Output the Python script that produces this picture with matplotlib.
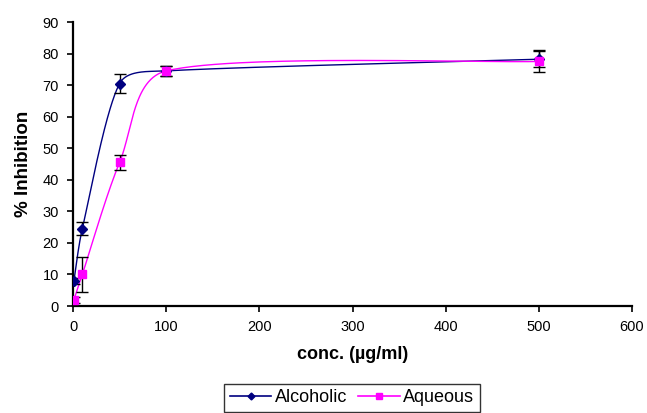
import numpy as np
import matplotlib
matplotlib.use("Agg")
import matplotlib.pyplot as plt
from matplotlib.lines import Line2D

plt.rcParams['font.family'] = ['Liberation Sans', 'DejaVu Sans']

conc = [1, 10, 50, 100, 500]
alcoholic = [8, 24.5, 70.5, 74.5, 78.2]
alcoholic_err = [1.0, 2.0, 3.0, 1.5, 2.5]
aqueous = [2, 10, 45.5, 74.5, 77.5]
aqueous_err = [1.0, 5.5, 2.5, 1.5, 3.5]
xticks = [0, 100, 200, 300, 400, 500, 600]
yticks = [0, 10, 20, 30, 40, 50, 60, 70, 80, 90]

fig = plt.figure(figsize=(6.47, 4.13), dpi=100)
ax = fig.add_axes([73 / 647, 107 / 413, 559 / 647, 284 / 413])
ax.set_xlim(0, 600)
ax.set_ylim(0, 90)


def smooth(x, y, n=60):
    # Excel-like smoothing done in display space, handles limited to 1/3 segment
    pts = ax.transData.transform(np.column_stack([x, y]))
    p = np.vstack([pts[0], pts, pts[-1]])
    t = np.linspace(0, 1, n)[:, None]
    out = []
    for i in range(1, len(p) - 2):
        p0, p1, p2, p3 = p[i - 1], p[i], p[i + 1], p[i + 2]
        seg = np.linalg.norm(p2 - p1)
        h1 = (p2 - p0) / 6.0
        h2 = (p3 - p1) / 6.0
        for h in (h1, h2):
            L = np.linalg.norm(h)
            if L > seg / 3.0:
                h *= (seg / 3.0) / L
        c1 = p1 + h1
        c2 = p2 - h2
        b = (1 - t) ** 3 * p1 + 3 * (1 - t) ** 2 * t * c1 \
            + 3 * (1 - t) * t ** 2 * c2 + t ** 3 * p2
        out.append(b)
    out = np.vstack(out)
    d = ax.transData.inverted().transform(out)
    return d[:, 0], d[:, 1]


navy = '#000080'
magenta = '#FF00FF'

sx, sy = smooth(conc, alcoholic)
ax.plot(sx, sy, color=navy, lw=1.0)
sx, sy = smooth(conc, aqueous)
ax.plot(sx, sy, color=magenta, lw=1.0)

ax.errorbar(conc, alcoholic, yerr=alcoholic_err, fmt='none', ecolor='black',
            elinewidth=1.0, capsize=4, capthick=1.0, zorder=3)
ax.errorbar(conc, aqueous, yerr=aqueous_err, fmt='none', ecolor='black',
            elinewidth=1.0, capsize=4, capthick=1.0, zorder=3)
ax.plot(conc, alcoholic, linestyle='none', marker='D', markersize=5,
        color=navy, zorder=4)
ax.plot(conc, aqueous, linestyle='none', marker='s', markersize=6,
        color=magenta, zorder=5)

ax.set_xticks(xticks)
ax.set_yticks(yticks)
ax.tick_params(direction='out', length=4, width=1.2, labelsize=10.5, pad=6)
for s in ['top', 'right']:
    ax.spines[s].set_visible(False)
for s in ['left', 'bottom']:
    ax.spines[s].set_linewidth(1.6)

ax.set_xlabel('conc. (µg/ml)', fontsize=13, fontweight='bold', labelpad=9)
ax.set_ylabel('% Inhibition', fontsize=13.5, fontweight='bold', labelpad=8)

handles = [Line2D([0], [0], color=navy, marker='D', markersize=3.5, lw=1.2),
           Line2D([0], [0], color=magenta, marker='s', markersize=4.5, lw=1.2)]
leg = fig.legend(handles, ['Alcoholic', 'Aqueous'], loc='upper center',
                 bbox_to_anchor=(352 / 647, 1 - 384 / 413), ncol=2, frameon=True,
                 fancybox=False, edgecolor='black', fontsize=13,
                 handlelength=2.3, handletextpad=0.2, columnspacing=0.6,
                 borderpad=0.3, borderaxespad=0)
leg.get_frame().set_linewidth(1.0)

fig.savefig('out.png', dpi=100)
